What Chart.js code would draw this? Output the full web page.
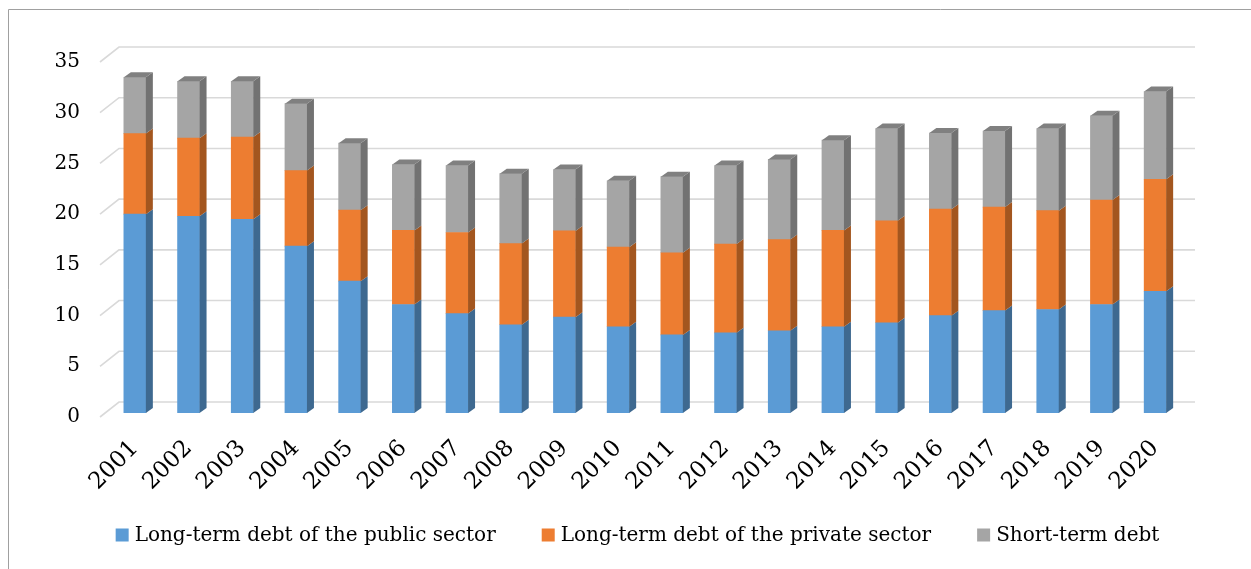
<!DOCTYPE html>
<html><head><meta charset="utf-8">
<style>html,body{margin:0;padding:0;background:#fff;overflow:hidden;} #wrap{position:relative;width:1251px;height:569px;}</style>
<script src="https://cdn.jsdelivr.net/npm/chart.js@4.4.1/dist/chart.umd.min.js"></script>
</head><body><div id="wrap"><canvas id="c" width="1251" height="569"></canvas></div>
<script>
const years = ['2001','2002','2003','2004','2005','2006','2007','2008','2009','2010','2011','2012','2013','2014','2015','2016','2017','2018','2019','2020'];
const publicDebt  = [19.6, 19.4, 19.1, 16.45, 13.0, 10.7, 9.8, 8.7, 9.45, 8.5, 7.7, 7.9, 8.1, 8.5, 8.9, 9.6, 10.1, 10.2, 10.7, 12.0];
const privateDebt = [7.95, 7.7, 8.1, 7.45, 7.0, 7.3, 8.0, 8.0, 8.5, 7.85, 8.1, 8.75, 9.0, 9.5, 10.05, 10.5, 10.2, 9.75, 10.3, 11.05];
const shortDebt   = [5.55, 5.6, 5.5, 6.6, 6.6, 6.5, 6.6, 6.9, 6.05, 6.55, 7.5, 7.75, 7.9, 8.9, 9.1, 7.5, 7.5, 8.1, 8.3, 8.65];
const seriesNames = ['Long-term debt of the public sector', 'Long-term debt of the private sector', 'Short-term debt'];
const yMin = 0, yMax = 35, yStep = 5;

const FONT = '"DejaVu Serif", "Liberation Serif", serif';
const DX = 7, DY = 5;

const framePlugin = {
  id: 'frame',
  beforeDraw(chart) {
    const ctx = chart.ctx;
    ctx.save();
    ctx.strokeStyle = '#a0a0a0';
    ctx.lineWidth = 1;
    ctx.beginPath();
    ctx.moveTo(8.5, chart.height);
    ctx.lineTo(8.5, 9.5);
    ctx.lineTo(chart.width, 9.5);
    ctx.stroke();
    ctx.restore();
  }
};

const gridPlugin = {
  id: 'grid3d',
  beforeDatasetsDraw(chart) {
    const ctx = chart.ctx;
    const ys = chart.scales.y;
    const area = chart.chartArea;
    ctx.save();
    ctx.strokeStyle = '#d9d9d9';
    ctx.lineWidth = 1.6;
    ys.ticks.forEach(t => {
      const y = ys.getPixelForValue(t.value);
      ctx.beginPath();
      ctx.moveTo(area.left - 8, y + 4);
      ctx.lineTo(area.left + 11, y - 11);
      ctx.lineTo(area.right + 13, y - 11);
      ctx.stroke();
    });
    ctx.restore();
  }
};

const bar3dPlugin = {
  id: 'bar3d',
  afterDatasetsDraw(chart) {
    const ctx = chart.ctx;
    const dsets = chart.data.datasets;
    ctx.save();
    dsets.forEach((ds, di) => {
      const meta = chart.getDatasetMeta(di);
      meta.data.forEach(el => {
        const p = el.getProps(['x', 'y', 'base', 'width'], true);
        const l = p.x - p.width / 2, r = p.x + p.width / 2;
        const top = Math.min(p.y, p.base), bot = Math.max(p.y, p.base);
        ctx.fillStyle = ds.sideColor;
        ctx.beginPath();
        ctx.moveTo(r, top); ctx.lineTo(r + DX, top - DY);
        ctx.lineTo(r + DX, bot - DY); ctx.lineTo(r, bot);
        ctx.closePath(); ctx.fill();
        if (di === dsets.length - 1) {
          ctx.fillStyle = ds.topColor;
          ctx.beginPath();
          ctx.moveTo(l, top); ctx.lineTo(l + DX, top - DY);
          ctx.lineTo(r + DX, top - DY); ctx.lineTo(r, top);
          ctx.closePath(); ctx.fill();
        }
      });
    });
    ctx.restore();
  }
};

const legendPlugin = {
  id: 'legendCustom',
  afterDraw(chart) {
    const ctx = chart.ctx;
    ctx.save();
    ctx.font = '20px ' + FONT;
    ctx.textBaseline = 'middle';
    ctx.textAlign = 'left';
    const box = 13, gapText = 6, gapItem = 46;
    const items = chart.data.datasets.map(d => ({ text: d.label, color: d.backgroundColor, w: ctx.measureText(d.label).width }));
    const total = items.reduce((s, it) => s + box + gapText + it.w, 0) + gapItem * (items.length - 1);
    let x = chart.width / 2 + 12 - total / 2;
    const yc = chart.chartArea.bottom + 122;
    items.forEach(it => {
      ctx.fillStyle = it.color;
      ctx.fillRect(x, yc - 6.5, box, box);
      ctx.fillStyle = '#000';
      ctx.fillText(it.text, x + box + gapText, yc + 1);
      x += box + gapText + it.w + gapItem;
    });
    ctx.restore();
  }
};

new Chart(document.getElementById('c'), {
  type: 'bar',
  data: {
    labels: years,
    datasets: [
      { label: seriesNames[0], data: publicDebt, backgroundColor: '#5b9bd5', sideColor: '#3e6990', topColor: '#7fb2e0' },
      { label: seriesNames[1], data: privateDebt, backgroundColor: '#ed7d31', sideColor: '#a3561f', topColor: '#f19a5e' },
      { label: seriesNames[2], data: shortDebt, backgroundColor: '#a5a5a5', sideColor: '#727272', topColor: '#808080' }
    ]
  },
  options: {
    responsive: false,
    animation: false,
    layout: { padding: { left: 0, right: 69, top: 58, bottom: 56 } },
    datasets: { bar: { barThickness: 22, borderWidth: 0 } },
    plugins: { legend: { display: false }, tooltip: { enabled: false } },
    scales: {
      x: {
        stacked: true,
        grid: { display: false, drawTicks: false },
        border: { display: false },
        ticks: { autoSkip: false, minRotation: 45, maxRotation: 45, padding: 22, color: '#000', font: { family: FONT, size: 23 } },
        afterFit(s) { s.height = 100; }
      },
      y: {
        stacked: true,
        min: yMin, max: yMax,
        grid: { display: false, drawTicks: false },
        border: { display: false },
        ticks: { stepSize: yStep, padding: 28, labelOffset: 4, color: '#000', font: { family: FONT, size: 20 } },
        afterFit(s) { s.width = 108; }
      }
    }
  },
  plugins: [framePlugin, gridPlugin, bar3dPlugin, legendPlugin]
});
</script>
</body></html>
